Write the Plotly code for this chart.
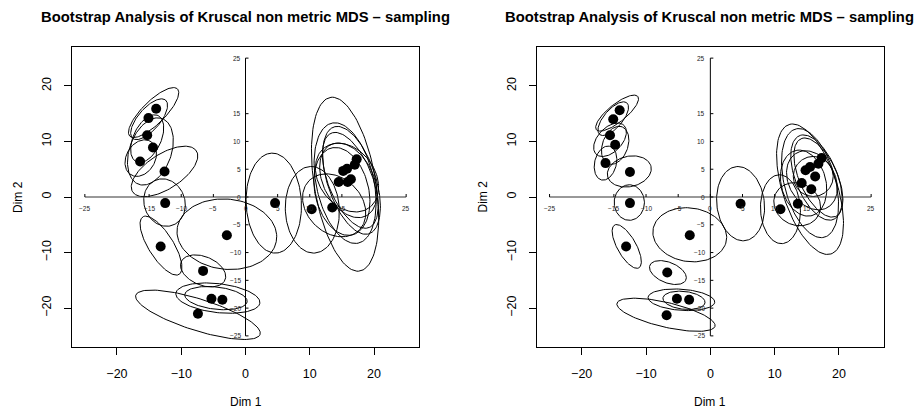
import numpy as np
import plotly.graph_objects as go

# ---- configuration points (Dim 1, Dim 2) ----
left_x = [-13.9, -15.1, -15.3, -14.4, -16.4, -12.6, -12.5, -13.2, -2.9, -6.6, -5.3, -3.6, -7.4,
          4.6, 10.3, 13.5, 14.5, 15.9, 16.4, 15.2, 15.8, 17.0, 17.3]
left_y = [15.9, 14.2, 11.1, 8.9, 6.4, 4.6, -1.1, -8.9, -6.9, -13.3, -18.3, -18.5, -21.0,
          -1.1, -2.2, -1.9, 2.7, 2.7, 3.2, 4.7, 5.1, 5.8, 6.8]

right_x = [-14.1, -15.1, -15.6, -14.8, -16.3, -12.5, -12.5, -13.1, -3.2, -6.7, -5.2, -3.3, -6.8,
           4.7, 10.9, 13.6, 14.2, 15.7, 16.3, 14.8, 15.5, 16.8, 17.3]
right_y = [15.6, 14.0, 11.1, 9.4, 6.1, 4.5, -1.1, -8.9, -6.9, -13.6, -18.3, -18.5, -21.3,
           -1.2, -2.2, -1.2, 2.5, 1.4, 3.7, 4.8, 5.4, 6.0, 7.0]

# ---- bootstrap confidence ellipses: centre, semi-axes, rotation (degrees) ----
left_ecx = [-14.3, -15.0, -15.3, -14.8, -16.3, -12.6, -12.6, -13.15, -2.9, -6.6, -4.3, -4.6, -7.4,
            4.4, 10.4, 13.8, 15.0, 15.8, 16.0, 15.5, 15.5, 16.3, 16.5]
left_ecy = [15.2, 14.0, 10.5, 8.2, 7.0, 4.6, -1.0, -8.75, -6.7, -13.3, -18.2, -18.2, -21.2,
            -1.1, -2.3, -1.5, 1.0, 3.5, 3.0, 2.3, 2.5, 3.0, 3.0]
left_ea = [5.65, 4.3, 4.5, 6.2, 3.4, 6.2, 4.3, 5.9, 7.8, 3.8, 6.6, 4.9, 10.3,
           9.0, 7.8, 6.0, 8.0, 6.5, 7.0, 15.8, 11.0, 9.0, 10.0]
left_eb = [1.9, 1.8, 2.2, 3.3, 2.3, 3.0, 3.2, 2.0, 6.3, 2.5, 2.6, 2.0, 2.8,
           4.3, 4.2, 4.5, 4.2, 4.5, 4.0, 4.8, 4.5, 3.5, 3.8]
left_eang = [50, 55, 70, 75, 70, 39, 100, 117.6, -10, -30, -8, -8, -20.4,
             92, 92, 120, 100, 115, 110, 98, 100, 108, 105]

right_ecx = [-14.5, -15.1, -15.6, -14.8, -16.3, -12.6, -12.6, -13.0, -3.2, -6.6, -4.5, -4.1, -6.9,
             4.7, 10.9, 13.5, 14.5, 15.8, 16.0, 15.5, 15.5, 16.5, 16.8]
right_ecy = [15.1, 14.1, 10.3, 9.3, 6.1, 4.6, -1.0, -8.9, -6.8, -13.6, -18.5, -18.6, -21.2,
             -1.2, -2.2, -1.3, 2.5, 3.0, 3.7, 1.4, 2.5, 3.5, 3.5]
right_ea = [4.4, 3.55, 3.4, 3.5, 3.1, 3.5, 3.2, 4.3, 5.8, 3.1, 5.2, 3.3, 7.9,
            6.7, 6.2, 4.0, 6.0, 5.5, 3.6, 12.1, 10.0, 8.0, 7.5]
right_eb = [1.5, 1.5, 2.0, 2.0, 1.7, 2.7, 2.35, 1.5, 4.8, 1.8, 1.9, 1.6, 2.2,
            3.7, 3.1, 3.5, 3.5, 3.7, 3.1, 4.3, 4.0, 3.3, 3.0]
right_eang = [44, 55, 55, 75, 80, 20, 90, 115, -15, -28, -5, -8, -15.4,
              95, 92, 120, 100, 110, 90, 105, 102, 108, 110]

# ---- axis ticks ----
main_ticks = [-20, -10, 0, 10, 20]
inner_xticks = [-25, -15, -10, -5, 0, 5, 10, 15, 25]
inner_yticks = [-25, -20, -15, -10, -5, 0, 5, 10, 15, 25]

TITLE = "Bootstrap Analysis of Kruscal non metric MDS \u2013 sampling"
FONT = "Liberation Sans, Arial, Helvetica, sans-serif"
LIM = [-27, 27]

fig = go.Figure()


def ellipse_path(cx, cy, a, b, ang, n=120):
    t = np.linspace(0, 2 * np.pi, n)
    th = np.deg2rad(ang)
    ex = cx + a * np.cos(th) * np.cos(t) - b * np.sin(th) * np.sin(t)
    ey = cy + a * np.sin(th) * np.cos(t) + b * np.cos(th) * np.sin(t)
    return ex, ey


def fmt(v):
    return ("\u2212%d" % -v) if v < 0 else str(v)


def add_panel(px, py, ecx, ecy, ea, eb, eang, xa, ya):
    xs, ys = [], []
    for cx, cy, a, b, ang in zip(ecx, ecy, ea, eb, eang):
        ex, ey = ellipse_path(cx, cy, a, b, ang)
        xs += list(ex) + [None]
        ys += list(ey) + [None]
    fig.add_trace(go.Scatter(x=xs, y=ys, mode="lines", xaxis=xa, yaxis=ya,
                             line=dict(color="black", width=1), hoverinfo="skip",
                             showlegend=False))
    fig.add_trace(go.Scatter(x=px, y=py, mode="markers", xaxis=xa, yaxis=ya,
                             marker=dict(color="black", size=10),
                             showlegend=False))

    # inner axes through the origin
    fig.add_shape(type="line", xref=xa, yref=ya, x0=-25, x1=25, y0=0, y1=0,
                  line=dict(color="#333333", width=1))
    fig.add_shape(type="line", xref=xa, yref=ya, x0=0, x1=0, y0=-25, y1=25,
                  line=dict(color="black", width=1))
    for v in inner_xticks:
        fig.add_shape(type="line", xref=xa, yref=ya, x0=v, x1=v,
                      ysizemode="pixel", yanchor=0, y0=0, y1=3,
                      line=dict(color="black", width=1))
        fig.add_annotation(x=v, y=0, xref=xa, yref=ya, text=fmt(v),
                           showarrow=False, xanchor="center", yanchor="middle", yshift=-11,
                           font=dict(size=6.5, family=FONT, color="#222"))
    for v in inner_yticks:
        fig.add_shape(type="line", xref=xa, yref=ya, y0=v, y1=v,
                      xsizemode="pixel", xanchor=0, x0=0, x1=3,
                      line=dict(color="black", width=1))
        fig.add_annotation(x=0, y=v, xref=xa, yref=ya, text=fmt(v),
                           showarrow=False, xanchor="right", yanchor="middle", xshift=-3,
                           font=dict(size=6.5, family=FONT, color="#222"))


add_panel(left_x, left_y, left_ecx, left_ecy, left_ea, left_eb, left_eang, "x", "y")
add_panel(right_x, right_y, right_ecx, right_ecy, right_ea, right_eb, right_eang, "x2", "y2")

ax_common = dict(range=LIM, showgrid=False, zeroline=False, showline=True, mirror=True,
                 linecolor="black", linewidth=1, ticks="outside", ticklen=7, tickwidth=1,
                 tickcolor="black", tickvals=main_ticks,
                 tickfont=dict(size=12.5, family=FONT, color="black"))

ydom = [1 - 347 / 410, 1 - 47 / 410]
fig.update_layout(
    width=920, height=410,
    margin=dict(l=0, r=0, t=0, b=0),
    paper_bgcolor="white", plot_bgcolor="white",
    xaxis=dict(domain=[72 / 920, 419 / 920], anchor="y", ticklabelstandoff=8, **ax_common),
    yaxis=dict(domain=ydom, anchor="x", tickangle=-90, ticklabelstandoff=8, **ax_common),
    xaxis2=dict(domain=[536.7 / 920, 884 / 920], anchor="y2", ticklabelstandoff=8, **ax_common),
    yaxis2=dict(domain=ydom, anchor="x2", tickangle=-90, ticklabelstandoff=8, **ax_common),
)

# titles and axis names
for cx in [245.5, 709.5]:
    fig.add_annotation(x=cx / 920, y=1 - 17 / 410, xref="paper", yref="paper",
                       xanchor="center", yanchor="middle",
                       text="<b>%s</b>" % TITLE, showarrow=False,
                       font=dict(size=14.8, family=FONT, color="black"))
    fig.add_annotation(x=cx / 920, y=1 - 402 / 410, xref="paper", yref="paper",
                       xanchor="center", yanchor="middle",
                       text="Dim 1", showarrow=False,
                       font=dict(size=12, family=FONT, color="black"))
for cx in [18, 482.5]:
    fig.add_annotation(x=cx / 920, y=1 - 197 / 410, xref="paper", yref="paper",
                       xanchor="center", yanchor="middle",
                       text="Dim 2", showarrow=False, textangle=-90,
                       font=dict(size=12, family=FONT, color="black"))

fig.write_html("out.html")
